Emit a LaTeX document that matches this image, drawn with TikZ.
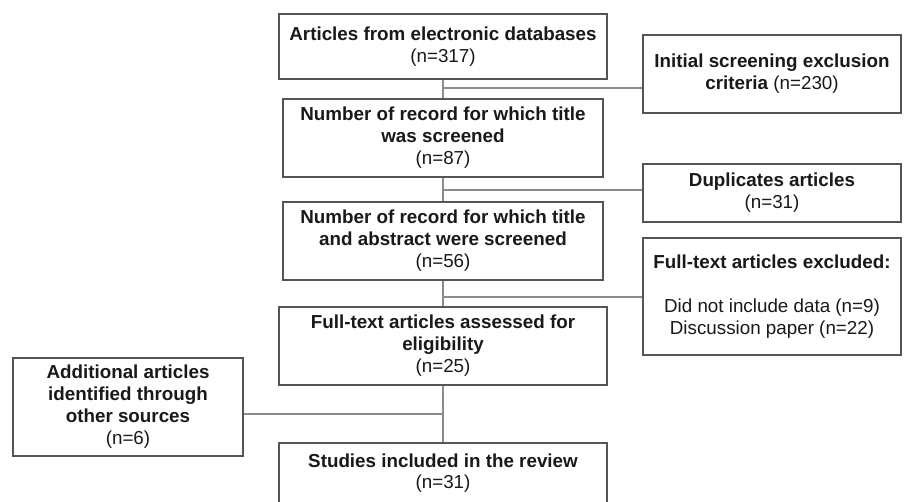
\documentclass[tikz,border=0pt]{standalone}
\usepackage{fontspec}
\setmainfont{Liberation Sans}
\definecolor{boxc}{RGB}{85,85,85}
\definecolor{linec}{RGB}{140,140,140}
\definecolor{txt}{RGB}{25,25,25}
\newcommand\diagfs{\fontsize{18.8}{22}\selectfont}
\begin{document}
\begin{tikzpicture}[x=1pt,y=-1pt,
  box/.style={draw=boxc, line width=1.1pt, align=center, font=\diagfs, text=txt, inner sep=0pt},
  link/.style={draw=linec, line width=1.1pt}]
\useasboundingbox (0,0) rectangle (905,502);
\fill[white] (0,0) rectangle (905,502);
\clip (0,0) rectangle (905,502);
% main column
\node[box, minimum width=328, minimum height=65] (a) at (443,46.5)
  {\textbf{Articles from electronic databases}\\(n=317)};
\node[box, minimum width=320, minimum height=78] (b) at (443,138)
  {\textbf{Number of record for which title}\\\textbf{was screened}\\(n=87)};
\node[box, minimum width=320, minimum height=78] (c) at (443,241)
  {\textbf{Number of record for which title}\\\textbf{and abstract were screened}\\(n=56)};
\node[box, minimum width=328, minimum height=78] (d) at (443,346)
  {\textbf{Full-text articles assessed for}\\\textbf{eligibility}\\(n=25)};
\node[box, minimum width=328, minimum height=100] (e) at (443,493)
  {\textbf{Studies included in the review}\\[-1pt](n=31)\\[21pt]~};
% right column
\node[box, minimum width=258, minimum height=78] (r1) at (772,74)
  {\textbf{Initial screening exclusion}\\\textbf{criteria} (n=230)};
\node[box, minimum width=258, minimum height=58] (r2) at (772,193)
  {\textbf{Duplicates articles}\\(n=31)};
\node[box, minimum width=258, minimum height=117] (r3) at (772,296.5)
  {\textbf{Full-text articles excluded:}\\[22pt]Did not include data (n=9)\\Discussion paper (n=22)};
% left box
\node[box, minimum width=230, minimum height=98] (l) at (128,407)
  {\textbf{Additional articles}\\\textbf{identified through}\\\textbf{other sources}\\(n=6)};
% junctions
\coordinate (j1) at (443,88);
\coordinate (j2) at (443,190);
\coordinate (j3) at (443,297);
\coordinate (j4) at (443,414);
% connectors
\draw[link] (a.south) -- (b.north);
\draw[link] (b.south) -- (c.north);
\draw[link] (c.south) -- (d.north);
\draw[link] (d.south) -- (e.north);
\draw[link] (j1) -- (j1 -| r1.west);
\draw[link] (j2) -- (j2 -| r2.west);
\draw[link] (j3) -- (j3 -| r3.west);
\draw[link] (j4 -| l.east) -- (j4);
\end{tikzpicture}
\end{document}
